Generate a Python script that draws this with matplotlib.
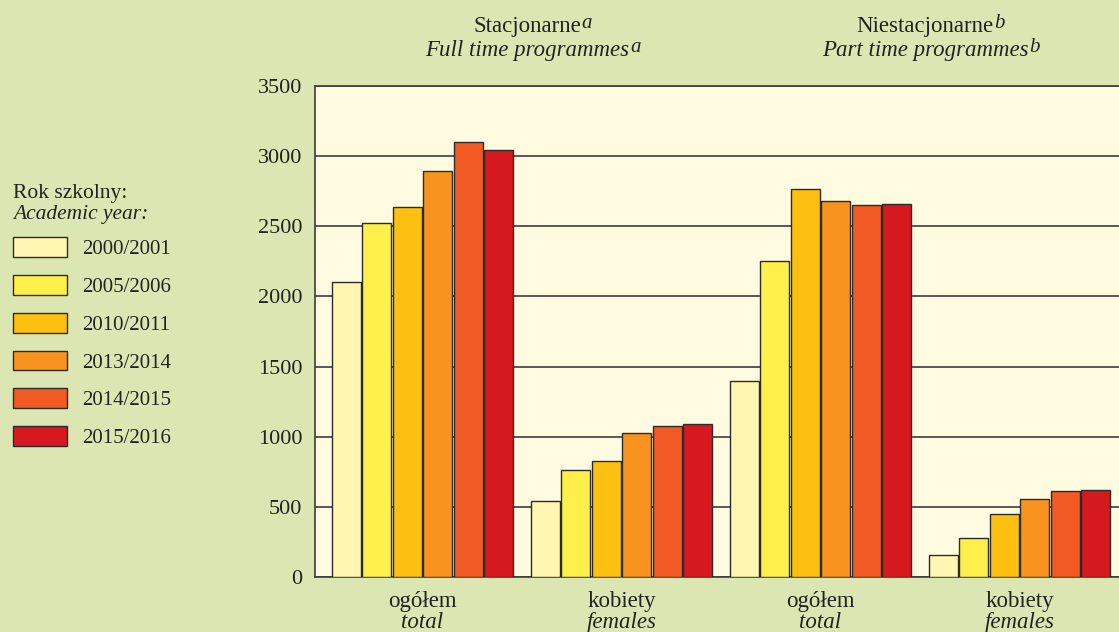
import matplotlib
matplotlib.use('Agg')
import matplotlib.pyplot as plt
import matplotlib.transforms as mtransforms
import numpy as np

plt.rcParams['font.family'] = ['Liberation Serif', 'DejaVu Serif']

# dane
years = ['2000/2001', '2005/2006', '2010/2011', '2013/2014', '2014/2015', '2015/2016']
groups_pl = ['ogółem', 'kobiety', 'ogółem', 'kobiety']
groups_en = ['total', 'females', 'total', 'females']
values = [
    [2100, 545, 1397, 160],   # 2000/2001
    [2520, 763, 2253, 278],   # 2005/2006
    [2637, 830, 2769, 452],   # 2010/2011
    [2897, 1029, 2678, 559],  # 2013/2014
    [3101, 1079, 2652, 616],  # 2014/2015
    [3047, 1091, 2659, 618],  # 2015/2016
]
colors = ['#FFF6B2', '#FFEF4A', '#FDC010', '#F7931E', '#F15A22', '#D6181F']

bg_fig = '#DCE6B2'
bg_ax = '#FFFBE1'
txt = '#222222'

fig = plt.figure(figsize=(11.19, 6.32), dpi=100, facecolor=bg_fig)
ax = fig.add_axes([0.2815, 0.087, 0.7185, 0.777], facecolor=bg_ax)

x = np.arange(len(groups_pl))
w = 0.146
step = 0.153
bars = []
for i, (yr, vals) in enumerate(zip(years, values)):
    b = ax.bar(x + (i - 2.5) * step, vals, width=w, color=colors[i],
               edgecolor='#2b2b2b', linewidth=1.0, label=yr, zorder=3)
    bars.append(b)

ax.set_xlim(-0.54, 3.5)
ax.set_ylim(0, 3500)
ax.set_yticks(range(0, 3501, 500))
ax.yaxis.grid(True, color='#3c3c3a', linewidth=1.2, zorder=1)
ax.set_axisbelow(True)
ax.tick_params(axis='y', length=0, pad=9, labelsize=16, colors=txt)
ax.set_xticks([])
for s in ['left', 'top', 'bottom']:
    ax.spines[s].set_color('#3c3c3a')
    ax.spines[s].set_linewidth(1.2)
ax.spines['right'].set_visible(False)

# podpisy grup
trans = mtransforms.blended_transform_factory(ax.transData, ax.transAxes)
for xi, pl, en in zip(x, groups_pl, groups_en):
    ax.text(xi, -0.05, pl, transform=trans, ha='center', va='center', fontsize=16.5, color=txt)
    ax.text(xi, -0.093, en, transform=trans, ha='center', va='center', fontsize=16.5,
            style='italic', color=txt)

# naglowki (z indeksem gornym)
heads = [(0.55, 1.110, 'Stacjonarne', 'normal', 'a'),
         (0.55, 1.061, 'Full time programmes', 'italic', 'a'),
         (2.55, 1.110, 'Niestacjonarne', 'normal', 'b'),
         (2.55, 1.061, 'Part time programmes', 'italic', 'b')]
head_txt = []
for hx, hy, s, st, sup in heads:
    t = ax.text(hx - 0.025, hy, s, transform=trans, ha='center', va='baseline', fontsize=16.5,
                style=st, color=txt)
    head_txt.append((t, sup))
fig.canvas.draw()
W, H = fig.get_size_inches() * fig.dpi
for t, sup in head_txt:
    bb = t.get_window_extent()
    base = ax.transAxes.transform((0, t.get_position()[1]))[1]
    fig.text((bb.x1 + 1) / W, (base + 4) / H, sup, fontsize=15, style='italic',
             color=txt, va='baseline')

# legenda
fig.text(0.012, 1 - 193 / 632, 'Rok szkolny:', fontsize=15.5, color=txt, va='center')
fig.text(0.012, 1 - 215 / 632, 'Academic year:', fontsize=15.5, style='italic', color=txt, va='center')
fig.legend(handles=bars, labels=years, loc='upper left', bbox_to_anchor=(0.0116, 0.625),
           frameon=False, fontsize=15, handlelength=2.6, handleheight=1.09,
           handletextpad=0.72, labelspacing=0.76, borderaxespad=0, borderpad=0, labelcolor=txt)

plt.savefig('out.png', dpi=100, facecolor=bg_fig)
